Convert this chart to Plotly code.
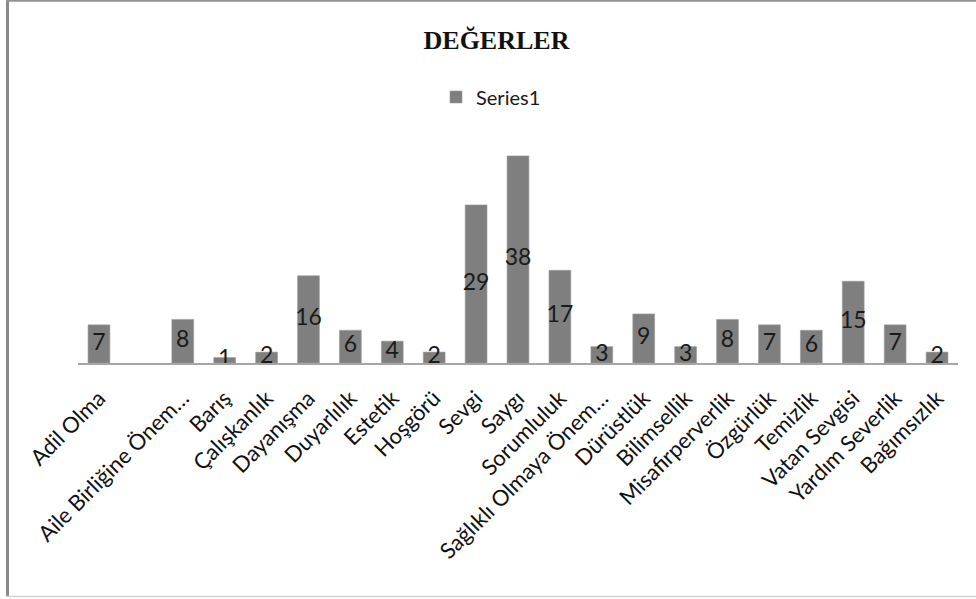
import plotly.graph_objects as go

# Values per category (one category slot is left empty)
categories = [
    "Adil Olma", " ", "Aile Birliğine Önem…", "Barış", "Çalışkanlık",
    "Dayanışma", "Duyarlılık", "Estetik", "Hoşgörü", "Sevgi", "Saygı",
    "Sorumluluk", "Sağlıklı Olmaya Önem…", "Dürüstlük", "Bilimsellik",
    "Misafirperverlik", "Özgürlük", "Temizlik", "Vatan Sevgisi",
    "Yardım Severlik", "Bağımsızlık",
]
values = [7, None, 8, 1, 2, 16, 6, 4, 2, 29, 38, 17, 3, 9, 3, 8, 7, 6, 15, 7, 2]

W, H = 976, 599
ML, MR, MT, MB = 78, 18, 145, 236
PW, PH = W - ML - MR, H - MT - MB

BAR_COLOR = "#7f7f7f"
LABEL_FONT = "Lato, Calibri, sans-serif"

fig = go.Figure()
fig.add_trace(go.Bar(
    x=categories, y=values, name="Series1",
    marker=dict(color=BAR_COLOR, line=dict(color="#9a9a9a", width=0.6)),
    width=0.52, hoverinfo="x+y",
))

# Value labels centred inside each bar
lab_x = [c for c, v in zip(categories, values) if v is not None]
lab_v = [v for v in values if v is not None]
fig.add_trace(go.Scatter(
    x=lab_x, y=[v / 2 for v in lab_v], text=[str(v) for v in lab_v],
    mode="text", textposition="middle center",
    textfont=dict(family=LABEL_FONT, size=23, color="#1a1a1a"),
    showlegend=False, hoverinfo="skip",
))


def px_x(p):
    return (p - ML) / PW


def px_y(p):
    return (H - MB - p) / PH


shapes = [
    # chart frame: left, top and bottom edges
    dict(type="line", xref="paper", yref="paper", x0=px_x(7.5), x1=px_x(7.5),
         y0=px_y(0), y1=px_y(597), line=dict(color="#8a8a8a", width=3)),
    dict(type="line", xref="paper", yref="paper", x0=px_x(6), x1=px_x(W + 2),
         y0=px_y(0.7), y1=px_y(0.7), line=dict(color="#939393", width=2)),
    dict(type="line", xref="paper", yref="paper", x0=px_x(6), x1=px_x(W + 2),
         y0=px_y(596.5), y1=px_y(596.5), line=dict(color="#d2d2d2", width=1.5)),
]

fig.update_layout(
    width=W, height=H,
    margin=dict(l=ML, r=MR, t=MT, b=MB),
    paper_bgcolor="white", plot_bgcolor="white",
    title=dict(text="<b>DEĞERLER</b>", xref="paper", x=px_x(496.5),
               xanchor="center", y=1 - 40 / H, yanchor="middle",
               font=dict(family="Liberation Serif, Times New Roman, serif",
                         size=26, color="#111111")),
    showlegend=True,
    legend=dict(orientation="h", x=px_x(491), xanchor="center",
                y=px_y(97), yanchor="middle",
                font=dict(family=LABEL_FONT, size=20, color="#1a1a1a"),
                itemwidth=30, bgcolor="rgba(0,0,0,0)"),
    xaxis=dict(
        type="category", categoryorder="array", categoryarray=categories,
        range=[-0.5, len(categories) - 0.5],
        tickangle=-45, showgrid=False, zeroline=False,
        showline=True, linecolor="#a6a6a6", linewidth=1.5,
        ticks="outside", ticklen=12, tickcolor="rgba(0,0,0,0)",
        tickfont=dict(family=LABEL_FONT, size=22, color="#111111"),
    ),
    yaxis=dict(range=[0, 40], visible=False, showgrid=False, zeroline=False),
    bargap=0.48,
    shapes=shapes,
)

fig.write_html("out.html")
